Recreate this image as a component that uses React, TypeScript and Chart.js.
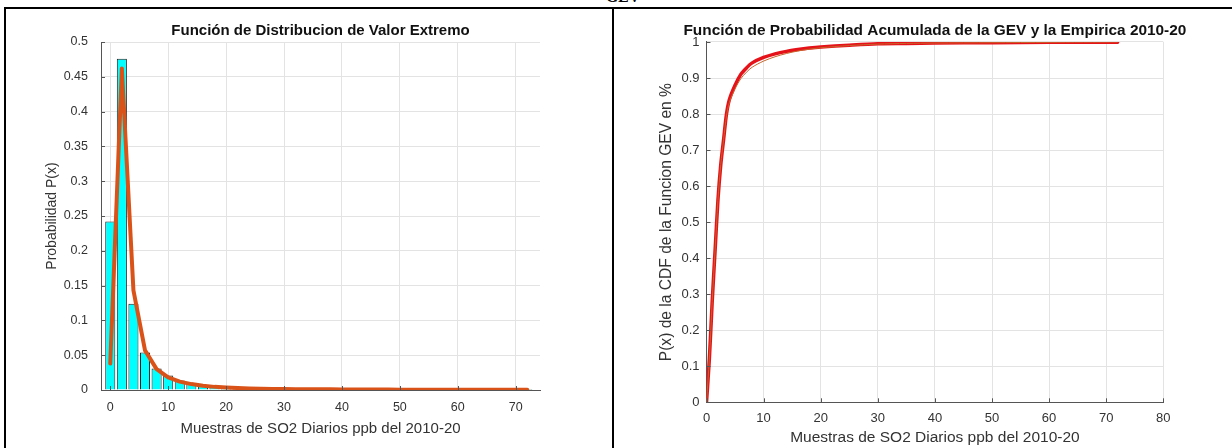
import React, { useEffect, useRef } from 'react';
import { Chart, registerables } from 'chart.js';

Chart.register(...registerables);

// ---------- Left panel data (histogram + fitted GEV pdf) ----------
const binCenters = [0, 2, 4, 6, 8, 10, 12, 14, 16, 18, 20, 22, 24, 26, 28, 30, 32, 34, 36, 38, 40, 42, 44, 46, 48, 50, 52, 54, 56, 58, 60, 62, 64, 66, 68, 70, 72];
const binProb = [0.242, 0.476, 0.124, 0.054, 0.031, 0.021, 0.0135, 0.0095, 0.0065, 0.0045, 0.003, 0.0022, 0.0016, 0.0012, 0.0009, 0.0007, 0.0006, 0.0005, 0.0004, 0.0003, 0.0003, 0.0002, 0.0002, 0.0002, 0.0001, 0.0001, 0.0001, 0.0001, 0.0001, 0.0001, 0, 0.0001, 0, 0, 0, 0, 0.0001];
const pdfValues = [0.038, 0.462, 0.143, 0.057, 0.03, 0.018, 0.012, 0.0085, 0.006, 0.0045, 0.0035, 0.0028, 0.0023, 0.0019, 0.0016, 0.0014, 0.0012, 0.0011, 0.001, 0.0009, 0.0008, 0.0007, 0.0007, 0.0006, 0.0006, 0.0005, 0.0005, 0.0005, 0.0004, 0.0004, 0.0004, 0.0004, 0.0003, 0.0003, 0.0003, 0.0003, 0.0003];
const leftXTicks = [0, 10, 20, 30, 40, 50, 60, 70];
const leftYTicks = [0, 0.05, 0.1, 0.15, 0.2, 0.25, 0.3, 0.35, 0.4, 0.45, 0.5];

// ---------- Right panel data (GEV CDF + empirical CDF) ----------
const cdfX = [0, 0.5, 1, 1.5, 2, 2.5, 3, 3.5, 4, 5, 6, 7, 8, 10, 12, 14, 16, 18, 20, 25, 30, 35, 40, 50, 60, 72];
const gevCdf = [0, 0.12, 0.28, 0.42, 0.56, 0.66, 0.73, 0.8, 0.84, 0.88, 0.91, 0.928, 0.942, 0.957, 0.967, 0.974, 0.979, 0.983, 0.986, 0.991, 0.995, 0.996, 0.997, 0.998, 0.999, 0.9995];
const empCdf = [0, 0.12, 0.28, 0.42, 0.56, 0.66, 0.73, 0.795, 0.832, 0.87, 0.898, 0.916, 0.93, 0.947, 0.959, 0.968, 0.975, 0.98, 0.984, 0.99, 0.994, 0.996, 0.997, 0.998, 0.999, 1];
const rightXTicks = [0, 10, 20, 30, 40, 50, 60, 70, 80];
const rightYTicks = [0, 0.1, 0.2, 0.3, 0.4, 0.5, 0.6, 0.7, 0.8, 0.9, 1];

const FONT = '"Liberation Sans", Arial, Helvetica, sans-serif';
const TICK_COLOR = '#333333';
const GRID_COLOR = '#e3e3e3';
const AXIS_COLOR = '#555555';

function fmt(v: number, d: number) {
  return String(Number(v.toFixed(d)));
}

// lets the title overflow the plot width while staying centred over it
const wideTitle = {
  id: 'wideTitle',
  afterLayout(chart: any) {
    const t = chart.titleBlock;
    if (!t) return;
    const c = (chart.chartArea.left + chart.chartArea.right) / 2;
    t.left = c - 320;
    t.right = c + 320;
    t.width = 640;
  },
};

// MATLAB-style short inward tick marks on the x and y axes
const inwardTicks = {
  id: 'inwardTicks',
  afterDraw(chart: any) {
    const { ctx, chartArea, scales } = chart;
    const len = 4;
    ctx.save();
    ctx.strokeStyle = AXIS_COLOR;
    ctx.lineWidth = 1;
    ctx.beginPath();
    scales.x.ticks.forEach((t: any) => {
      const px = Math.round(scales.x.getPixelForValue(t.value)) + 0.5;
      ctx.moveTo(px, chartArea.bottom);
      ctx.lineTo(px, chartArea.bottom - len);
    });
    scales.y.ticks.forEach((t: any) => {
      const py = Math.round(scales.y.getPixelForValue(t.value)) + 0.5;
      ctx.moveTo(chartArea.left, py);
      ctx.lineTo(chartArea.left + len, py);
    });
    ctx.stroke();
    ctx.restore();
  },
};

function LeftChart() {
  const ref = useRef<HTMLCanvasElement>(null);
  useEffect(() => {
    const chart = new Chart(ref.current!, {
      type: 'bar',
      data: {
        datasets: [
          {
            type: 'line',
            data: binCenters.map((x, i) => ({ x, y: pdfValues[i] })),
            borderColor: '#d95319',
            borderWidth: 4,
            pointRadius: 0,
            tension: 0,
            borderJoinStyle: 'round',
            borderCapStyle: 'round',
            order: 0,
          } as any,
          {
            type: 'bar',
            data: binCenters.map((x, i) => ({ x, y: binProb[i] })),
            backgroundColor: '#00ffff',
            borderColor: '#1f1f1f',
            borderWidth: 1,
            barPercentage: 0.87,
            categoryPercentage: 1,
            order: 1,
          } as any,
        ],
      },
      options: {
        animation: false,
        responsive: false,
        events: [],
        layout: { padding: { left: 0, right: 71, top: 0, bottom: 0 } },
        plugins: {
          legend: { display: false },
          tooltip: { enabled: false },
          title: {
            display: true,
            fullSize: false,
            text: 'Función de Distribucion de Valor Extremo',
            color: '#111111',
            font: { family: FONT, size: 15, weight: 'bold' },
            padding: { top: 12, bottom: 2 },
          },
        },
        scales: {
          x: {
            type: 'linear',
            min: -1.6,
            max: 74.2,
            offset: false,
            afterBuildTicks: (s: any) => {
              s.ticks = leftXTicks.map((v) => ({ value: v }));
            },
            afterFit: (s: any) => {
              s.height = 58;
            },
            grid: { color: GRID_COLOR, drawTicks: false, offset: false },
            border: { color: AXIS_COLOR, width: 1 },
            ticks: {
              padding: 10,
              color: TICK_COLOR,
              font: { family: FONT, size: 12.5 },
              maxRotation: 0,
              callback: (v: any) => fmt(Number(v), 0),
            },
            title: {
              display: true,
              text: 'Muestras de SO2 Diarios ppb del 2010-20',
              color: TICK_COLOR,
              font: { family: FONT, size: 15 },
              padding: { top: 0, bottom: 10.5 },
            },
          },
          y: {
            type: 'linear',
            min: 0,
            max: 0.5,
            afterBuildTicks: (s: any) => {
              s.ticks = leftYTicks.map((v) => ({ value: v }));
            },
            afterFit: (s: any) => {
              s.width = 94;
            },
            grid: { color: GRID_COLOR, drawTicks: false },
            border: { color: AXIS_COLOR, width: 1 },
            ticks: {
              padding: 13,
              color: TICK_COLOR,
              font: { family: FONT, size: 12.5 },
              callback: (v: any) => fmt(Number(v), 2),
            },
            title: {
              display: true,
              text: 'Probabilidad P(x)',
              color: TICK_COLOR,
              font: { family: FONT, size: 14 },
              padding: { top: 36.6, bottom: 0 },
            },
          },
        },
      } as any,
      plugins: [wideTitle, inwardTicks],
    });
    return () => chart.destroy();
  }, []);
  return <canvas ref={ref} width={604} height={438} />;
}

function RightChart() {
  const ref = useRef<HTMLCanvasElement>(null);
  useEffect(() => {
    const chart = new Chart(ref.current!, {
      type: 'line',
      data: {
        datasets: [
          {
            data: cdfX.map((x, i) => ({ x, y: empCdf[i] })),
            borderColor: '#c8642a',
            borderWidth: 1,
            pointRadius: 0,
            tension: 0.3,
            order: 0,
          },
          {
            data: cdfX.map((x, i) => ({ x, y: gevCdf[i] })),
            borderColor: '#e5121a',
            borderWidth: 3.5,
            pointRadius: 0,
            tension: 0.3,
            borderJoinStyle: 'round',
            borderCapStyle: 'round',
            order: 1,
          },
        ],
      },
      options: {
        animation: false,
        responsive: false,
        events: [],
        layout: { padding: { left: 0, right: 68.7, top: 0, bottom: 0 } },
        plugins: {
          legend: { display: false },
          tooltip: { enabled: false },
          title: {
            display: true,
            fullSize: false,
            text: 'Función de Probabilidad Acumulada de la GEV y la Empirica 2010-20',
            color: '#111111',
            font: { family: FONT, size: 15.4, weight: 'bold' },
            padding: { top: 11.5, bottom: 2 },
          },
        },
        scales: {
          x: {
            type: 'linear',
            min: 0,
            max: 80,
            afterBuildTicks: (s: any) => {
              s.ticks = rightXTicks.map((v) => ({ value: v }));
            },
            afterFit: (s: any) => {
              s.height = 45.7;
            },
            grid: { color: GRID_COLOR, drawTicks: false },
            border: { color: AXIS_COLOR, width: 1 },
            ticks: {
              padding: 8,
              color: TICK_COLOR,
              font: { family: FONT, size: 13 },
              maxRotation: 0,
              callback: (v: any) => fmt(Number(v), 0),
            },
            title: {
              display: true,
              text: 'Muestras de SO2 Diarios ppb del 2010-20',
              color: TICK_COLOR,
              font: { family: FONT, size: 15.5 },
              padding: { top: 0, bottom: 0.5 },
            },
          },
          y: {
            type: 'linear',
            min: 0,
            max: 1,
            afterBuildTicks: (s: any) => {
              s.ticks = rightYTicks.map((v) => ({ value: v }));
            },
            afterFit: (s: any) => {
              s.width = 90.5;
            },
            grid: { color: GRID_COLOR, drawTicks: false },
            border: { color: AXIS_COLOR, width: 1 },
            ticks: {
              padding: 7,
              color: TICK_COLOR,
              font: { family: FONT, size: 13 },
              callback: (v: any) => fmt(Number(v), 1),
            },
            title: {
              display: true,
              text: 'P(x) de la CDF de la Funcion GEV en %',
              color: TICK_COLOR,
              font: { family: FONT, size: 15.6 },
              padding: { top: 41.6, bottom: 0 },
            },
          },
        },
      } as any,
      plugins: [wideTitle, inwardTicks],
    });
    return () => chart.destroy();
  }, []);
  return <canvas ref={ref} width={616} height={438} />;
}

export default function App() {
  const line: React.CSSProperties = { position: 'absolute', background: '#000' };
  return (
    <div style={{ position: 'absolute', left: 0, top: 0, width: 1232, height: 448, background: '#fff', overflow: 'hidden' }}>
      <div
        style={{
          position: 'absolute',
          left: 598,
          top: -11,
          width: 50,
          textAlign: 'center',
          fontFamily: '"Liberation Serif", serif',
          fontWeight: 'bold',
          fontSize: 16,
          lineHeight: '16px',
          color: '#000',
        }}
      >
        GEV
      </div>
      <div style={{ ...line, left: 4, top: 7, width: 1228, height: 2 }} />
      <div style={{ ...line, left: 4, top: 7, width: 2, height: 441 }} />
      <div style={{ ...line, left: 612, top: 7, width: 2, height: 441 }} />
      <div style={{ position: 'absolute', left: 7, top: 10 }}>
        <LeftChart />
      </div>
      <div style={{ position: 'absolute', left: 616, top: 10 }}>
        <RightChart />
      </div>
    </div>
  );
}
